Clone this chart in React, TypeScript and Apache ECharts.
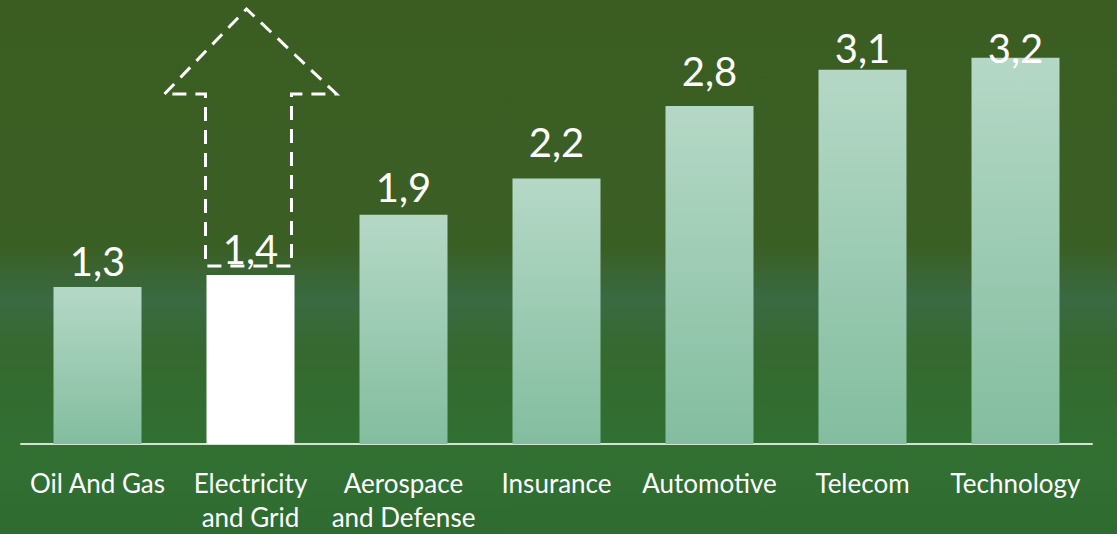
import React, { useEffect, useRef } from 'react';
import * as echarts from 'echarts';

const categories = [
  'Oil And Gas',
  'Electricity\nand Grid',
  'Aerospace\nand Defense',
  'Insurance',
  'Automotive',
  'Telecom',
  'Technology',
];
const values = [1.3, 1.4, 1.9, 2.2, 2.8, 3.1, 3.2];
const highlightIndex = 1;
// vertical nudges of each value label (layout only, in px)
const labelNudges = [-3, -3, -5, -13, -12, 1, 13];

export default function App() {
  const ref = useRef<HTMLDivElement>(null);

  useEffect(() => {
    const chart = echarts.init(ref.current!, null, { renderer: 'svg' });
    const barGradient = new echarts.graphic.LinearGradient(0, 0, 0, 1, [
      { offset: 0, color: '#b5d8c6' },
      { offset: 1, color: '#83bd9f' },
    ]);
    const bg = new echarts.graphic.LinearGradient(0, 0, 0, 1, [
      { offset: 0, color: '#3b5d22' },
      { offset: 0.46, color: '#3a5f24' },
      { offset: 0.56, color: '#3a6a42' },
      { offset: 0.66, color: '#36692f' },
      { offset: 0.85, color: '#317032' },
      { offset: 1, color: '#2f6b30' },
    ]);

    chart.setOption({
      animation: false,
      backgroundColor: bg,
      grid: { left: 21, right: 25, top: 21.5, bottom: 89, containLabel: false },
      xAxis: {
        type: 'category',
        data: categories,
        axisLine: { lineStyle: { color: '#d2e3d2', width: 2 } },
        axisTick: { show: false },
        axisLabel: {
          color: '#ffffff',
          fontSize: 26,
          fontFamily: 'Lato',
          lineHeight: 34,
          margin: 22,
          interval: 0,
        },
      },
      yAxis: { type: 'value', min: 0, max: 3.5, show: false },
      series: [
        {
          type: 'bar',
          barWidth: 88,
          data: values.map((v, i) => ({
            value: v,
            itemStyle: { color: i === highlightIndex ? '#ffffff' : barGradient },
            label: { offset: [0, labelNudges[i]] },
          })),
          label: {
            show: true,
            position: 'top',
            distance: 3,
            color: '#ffffff',
            fontSize: 40,
            fontFamily: 'Lato',
            formatter: (p: any) => String(p.value).replace('.', ','),
          },
          z: 3,
        },
      ],
    });

    const cx = chart.convertToPixel({ xAxisIndex: 0 }, categories[highlightIndex]) as number;
    const top = chart.convertToPixel({ yAxisIndex: 0 }, values[highlightIndex]) as number;
    const shaftBottom = top - 9;
    const headBase = top - 181;
    const apex = top - 266;
    const sw = 43;
    const hw = 86;
    chart.setOption({
      graphic: [
        {
          type: 'polygon',
          z: 10,
          shape: {
            points: [
              [cx - hw, headBase],
              [cx - 4, apex],
              [cx + hw, headBase],
              [cx + sw - 2, headBase],
              [cx + sw - 2, shaftBottom],
              [cx - sw - 2, shaftBottom],
              [cx - sw - 2, headBase],
            ],
          },
          style: { fill: 'none', stroke: '#ffffff', lineWidth: 3, lineDash: [14, 9] },
        },
      ],
    });

    return () => chart.dispose();
  }, []);

  return (
    <div
      ref={ref}
      style={{ position: 'fixed', left: 0, top: 0, width: 1117, height: 534 }}
    />
  );
}
